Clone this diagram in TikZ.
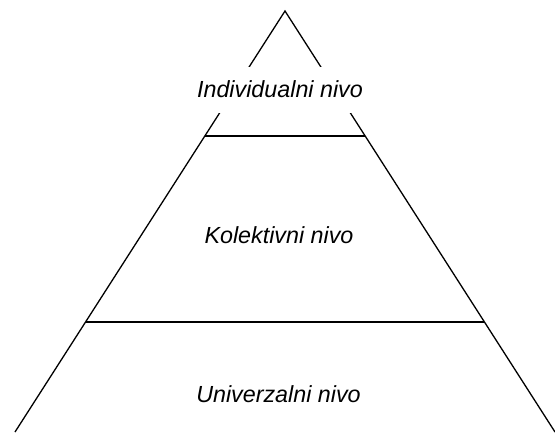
\documentclass[tikz,border=0pt]{standalone}
\usepackage{fontspec}
\setmainfont{Liberation Sans}
\usetikzlibrary{calc}
\begin{document}
\begin{tikzpicture}[x=1pt,y=-1pt,line width=1.3pt,
  level/.style={font=\itshape\fontsize{23.3}{28}\selectfont,anchor=base,inner sep=0pt},
  tierline/.style={line width=1.3pt}]
\useasboundingbox (0,0) rectangle (555,432);
\clip (0,0) rectangle (555,432);
% outline of the pyramid
\coordinate (apex) at (285,11);
\coordinate (bl) at (15,432);
\coordinate (br) at (555,432);
\draw (bl) -- (apex) -- (br);
% borders between the levels
\coordinate (l1) at ($(apex)!0.2969!(bl)$);
\coordinate (r1) at ($(apex)!0.2969!(br)$);
\coordinate (l2) at ($(apex)!0.7387!(bl)$);
\coordinate (r2) at ($(apex)!0.7387!(br)$);
\draw[tierline] (l1) -- (r1);
\draw[tierline] (l2) -- (r2);
% level labels
\node[level,fill=white,inner xsep=25pt,text height=30.5pt,text depth=15.5pt] (ind) at (280,97.5) {Individualni nivo};
\node[level] (kol) at (279,243) {Kolektivni nivo};
\node[level] (uni) at (278.5,402) {Univerzalni nivo};
\end{tikzpicture}
\end{document}
